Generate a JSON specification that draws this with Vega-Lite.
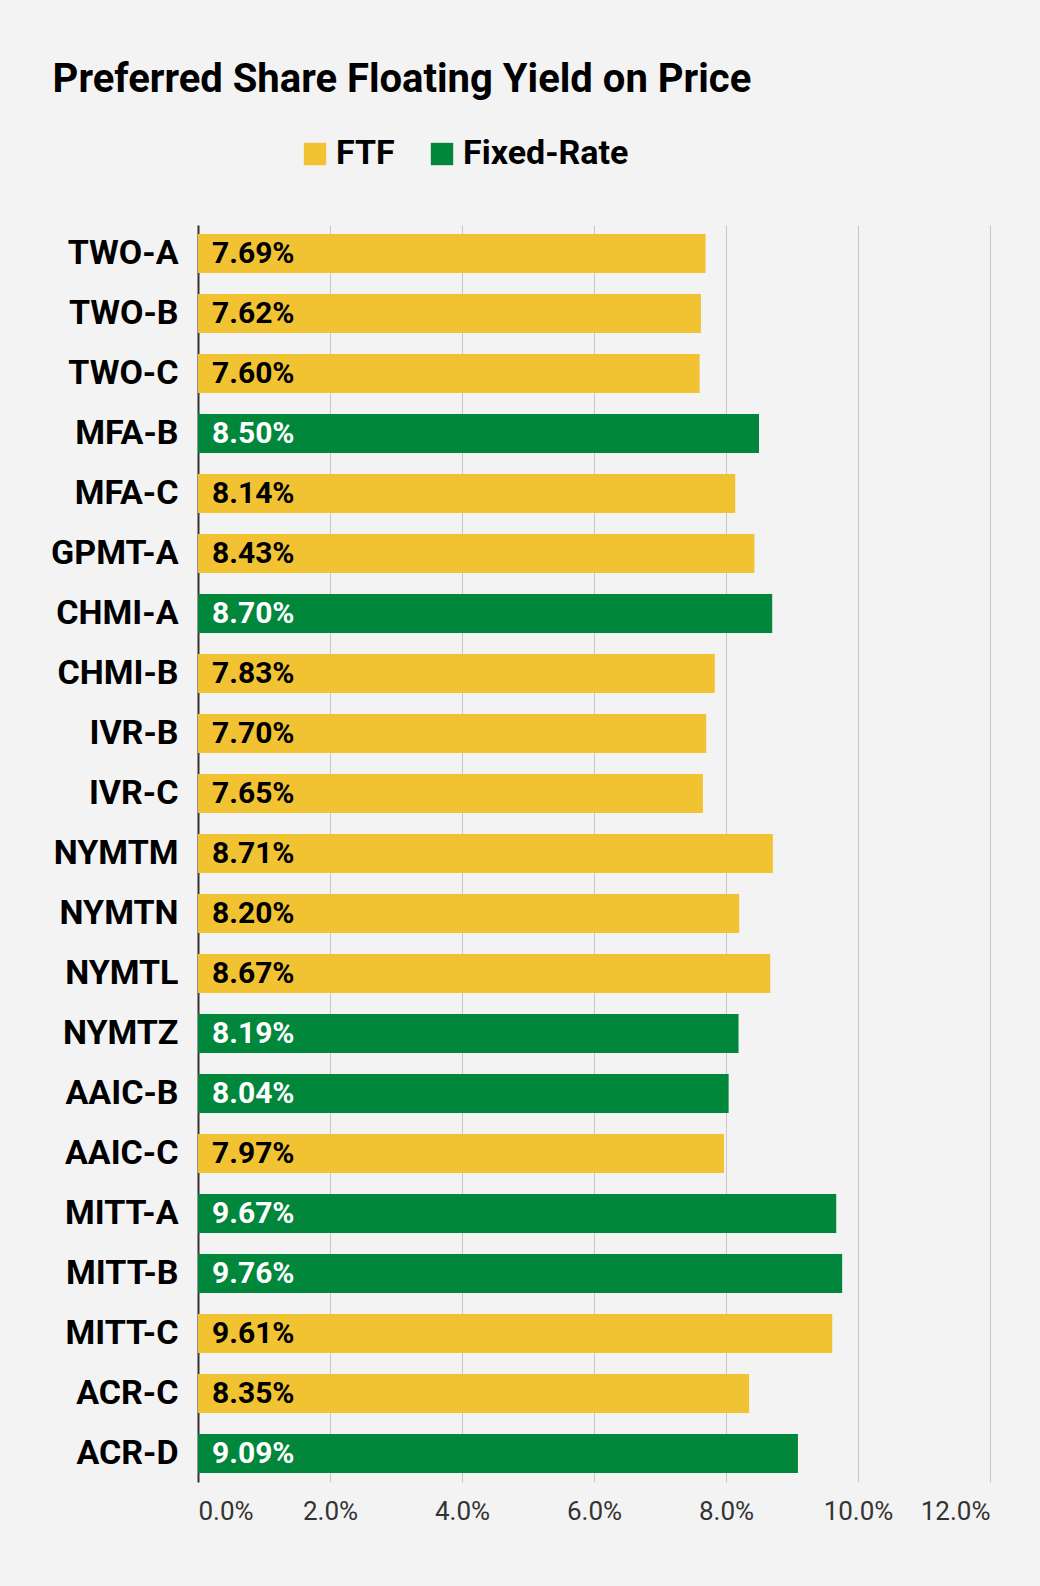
{
"$schema":"https://vega.github.io/schema/vega-lite/v6.json",
"width":1040,"height":1586,
"autosize":{"type":"fit","contains":"padding"},
"padding":{"left":50,"top":60,"right":50,"bottom":62},
"background":"#f3f3f3",
"config":{"view":{"stroke":null},"font":"Roboto"},
"title":{"text":"Preferred Share Floating Yield on Price","anchor":"start","fontSize":40,"fontWeight":"bold","color":"#000","font":"Roboto","offset":125,"dx":2},
"data":{"values":[
{"n":"TWO-A","v":7.69,"t":"FTF"},{"n":"TWO-B","v":7.62,"t":"FTF"},{"n":"TWO-C","v":7.60,"t":"FTF"},
{"n":"MFA-B","v":8.50,"t":"Fixed-Rate"},{"n":"MFA-C","v":8.14,"t":"FTF"},{"n":"GPMT-A","v":8.43,"t":"FTF"},
{"n":"CHMI-A","v":8.70,"t":"Fixed-Rate"},{"n":"CHMI-B","v":7.83,"t":"FTF"},{"n":"IVR-B","v":7.70,"t":"FTF"},
{"n":"IVR-C","v":7.65,"t":"FTF"},{"n":"NYMTM","v":8.71,"t":"FTF"},{"n":"NYMTN","v":8.20,"t":"FTF"},
{"n":"NYMTL","v":8.67,"t":"FTF"},{"n":"NYMTZ","v":8.19,"t":"Fixed-Rate"},{"n":"AAIC-B","v":8.04,"t":"Fixed-Rate"},
{"n":"AAIC-C","v":7.97,"t":"FTF"},{"n":"MITT-A","v":9.67,"t":"Fixed-Rate"},{"n":"MITT-B","v":9.76,"t":"Fixed-Rate"},
{"n":"MITT-C","v":9.61,"t":"FTF"},{"n":"ACR-C","v":8.35,"t":"FTF"},{"n":"ACR-D","v":9.09,"t":"Fixed-Rate"}
]},
"encoding":{
"y":{"field":"n","type":"nominal","sort":null,"title":null,"scale":{"paddingInner":0.35,"paddingOuter":0.15},
 "axis":{"labelFontSize":34,"labelFontWeight":"bold","labelColor":"#000","ticks":false,"labelPadding":20,"domain":true,"domainColor":"#333","domainWidth":2}}
},
"layer":[
{"mark":{"type":"bar"},
 "encoding":{
 "x":{"field":"v","type":"quantitative","scale":{"domain":[0,12]},"title":null,
  "axis":{"values":[0,2,4,6,8,10,12],"labelExpr":"format(datum.value,'.1f')+'%'","labelFontSize":26,"labelColor":"#333","grid":true,"gridColor":"#c8c8c8","domain":false,"ticks":false,"labelPadding":16}},
 "color":{"field":"t","type":"nominal","sort":["FTF","Fixed-Rate"],"scale":{"domain":["FTF","Fixed-Rate"],"range":["#f1c232","#00873c"]},
  "legend":{"orient":"none","legendX":100,"legendY":-88,"direction":"horizontal","title":null,"labelFontSize":34,"labelFontWeight":"bold","labelColor":"#000","labelLimit":0,"symbolType":"square","symbolSize":500,"symbolStrokeWidth":0,"columnPadding":30}}
 }},
{"mark":{"type":"text","align":"left","dx":14,"fontSize":30,"fontWeight":"bold","baseline":"middle","text":{"expr":"format(datum.v,'.2f')+'%'"}},
 "encoding":{
 "x":{"datum":0},
 "color":{"condition":{"test":"datum.t==='Fixed-Rate'","value":"white"},"value":"black"}
 }}
]
}
